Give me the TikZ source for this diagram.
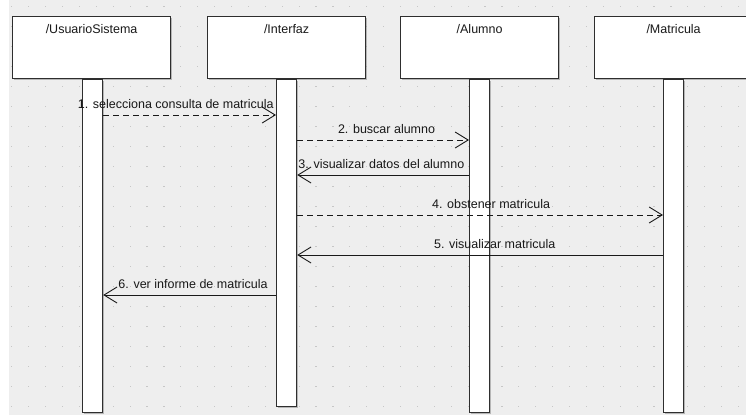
\documentclass[tikz,border=0pt]{standalone}
\usepackage{fontspec}
\setmainfont{Liberation Sans}
\usetikzlibrary{arrows.meta, shadows}

\definecolor{fondo}{HTML}{EEEEEE}
\definecolor{punto}{HTML}{C6C6C6}
\definecolor{borde}{HTML}{2E2E2E}

\tikzset{
  caja/.style={draw=borde, line width=1.2pt, fill=white, inner sep=0pt,
    minimum width=158pt, minimum height=62pt, anchor=north west,
    drop shadow={shadow xshift=1pt, shadow yshift=-1.5pt, fill=black!50, opacity=.5}},
  barra/.style={draw=borde, line width=1.2pt, fill=white, inner sep=0pt,
    minimum width=20pt, anchor=north,
    drop shadow={shadow xshift=1.5pt, shadow yshift=-1.5pt, fill=black!50, opacity=.5}},
  titulo/.style={anchor=base, inner sep=0pt, text=black!90, font=\fontsize{12.5}{14}\selectfont},
  etq/.style={anchor=base, inner sep=0pt, yshift=7pt, text=black!90, font=\fontsize{12.5}{14}\selectfont},
  msj/.style={draw=black!90, line width=.9pt, -{Straight Barb[length=13pt,width=16pt]}},
  msjdash/.style={msj, dash pattern=on 6pt off 4pt}
}

\begin{document}
\begin{tikzpicture}[x=1pt, y=-1pt]
\useasboundingbox (0,0) rectangle (746,416);
% fondo con rejilla de puntos
\fill[fondo] (9,0) rectangle (746,415);
\foreach \i in {0,...,43}
  \foreach \j in {0,...,20}
    \fill[punto] (11.2+16.9*\i,5.5+20*\j) rectangle ++(1.2,1.2);

% objetos
\node[caja] (usr) at (12,16) {};
\node[caja] (int) at (207,16) {};
\node[caja] (alu) at (400,16) {};
\node[caja] (mat) at (594,16) {};
\node[titulo] (usrt) at ([yshift=-17pt]usr.north) {/UsuarioSistema};
\node[titulo] (intt) at ([yshift=-17pt]int.north) {/Interfaz};
\node[titulo] (alut) at ([yshift=-17pt]alu.north) {/Alumno};
\node[titulo] (matt) at ([yshift=-17pt]mat.north) {/Matricula};

% lineas de vida
\node[barra, minimum height=333pt] (usrb) at ([xshift=1pt]usr.south) {};
\node[barra, minimum height=327pt] (intb) at (int.south) {};
\node[barra, minimum height=333pt] (alub) at (alu.south) {};
\node[barra, minimum height=333pt] (matb) at (mat.south) {};

% filas de los mensajes
\coordinate (f1) at (0,115);
\coordinate (f2) at (0,140);
\coordinate (f3) at (0,175);
\coordinate (f4) at (0,215);
\coordinate (f5) at (0,255);
\coordinate (f6) at (0,295);

% mensajes
\draw[msjdash] (usrb.east |- f1) -- node[etq, pos=.42] (m1) {1. selecciona consulta de matricula} (intb.west |- f1);
\draw[msjdash] (intb.east |- f2) -- node[etq, pos=.52] (m2) {2. buscar alumno} (alub.west |- f2);
\draw[msj] (alub.west |- f3) -- node[etq, pos=.51] (m3) {3. visualizar datos del alumno} (intb.east |- f3);
\draw[msjdash] (intb.east |- f4) -- node[etq, pos=.53] (m4) {4. obstener matricula} (matb.west |- f4);
\draw[msj] (matb.west |- f5) -- node[etq, pos=.46] (m5) {5. visualizar matricula} (intb.east |- f5);
\draw[msj] (intb.west |- f6) -- node[etq, pos=.48] (m6) {6. ver informe de matricula} (usrb.east |- f6);
\end{tikzpicture}
\end{document}
